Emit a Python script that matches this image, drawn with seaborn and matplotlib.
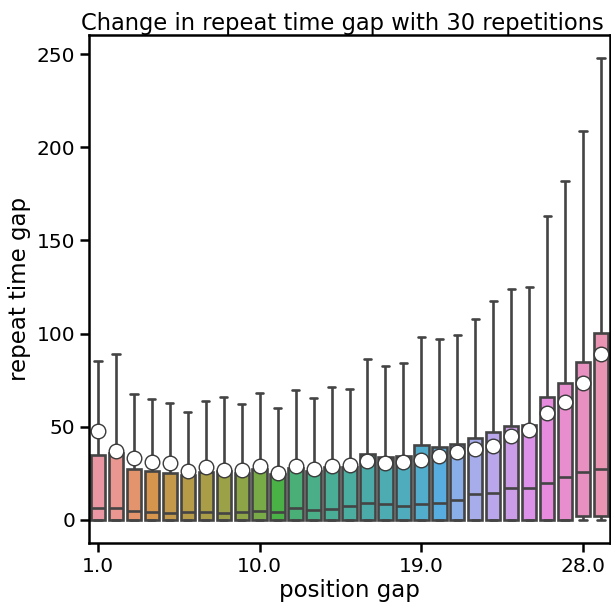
import matplotlib
matplotlib.use("Agg")
import matplotlib.pyplot as plt
import numpy as np
import pandas as pd
import seaborn as sns

# position gap categories
positions = [float(i) for i in range(1, 30)]

# box statistics (repeat time gap)
whisk_low = [0] * 27 + [0, 0]
q1 = [0] * 27 + [2, 2]
medians = [6.3, 6.3, 4.8, 4.5, 3.8, 4.1, 4.5, 3.8, 4.3, 5.0,
           4.1, 6.3, 5.4, 5.7, 7.5, 9.3, 8.6, 7.5, 8.6, 9.0,
           10.7, 13.8, 14.7, 17.0, 17.0, 19.7, 22.9, 25.9, 27.2]
q3 = [35.0, 35.8, 27.2, 26.5, 25.4, 24.1, 25.9, 26.5, 25.0, 27.5,
      24.5, 28.0, 26.5, 28.5, 28.2, 35.2, 33.6, 34.5, 40.1, 39.3,
      40.6, 43.8, 47.4, 50.4, 51.0, 66.2, 73.3, 85.0, 100.5]
whisk_high = [85.3, 88.9, 67.8, 64.9, 62.6, 58.1, 63.7, 66.0, 62.2, 68.3,
              60.1, 69.6, 65.6, 71.2, 70.1, 86.2, 82.6, 84.1, 98.0, 97.1,
              99.1, 107.7, 117.7, 124.1, 125.2, 163.0, 181.9, 208.5, 247.9]
means = [47.6, 37.0, 33.1, 31.0, 30.6, 26.5, 28.6, 26.7, 26.7, 29.0,
         25.4, 29.0, 27.5, 29.0, 29.5, 31.8, 30.4, 31.3, 32.4, 34.3,
         36.3, 38.3, 39.9, 44.9, 48.3, 57.6, 63.5, 73.7, 89.1]

# five values per category reproduce the quartiles and whiskers exactly
rows = []
for i, p in enumerate(positions):
    for v in (whisk_low[i], q1[i], medians[i], q3[i], whisk_high[i]):
        rows.append({"position gap": p, "repeat time gap": v})
df = pd.DataFrame(rows)
df_mean = pd.DataFrame({"position gap": positions, "repeat time gap": means})

sns.set_style("ticks")
plt.rcParams["font.family"] = ["DejaVu Sans"]
plt.rcParams["text.color"] = "black"
plt.rcParams["axes.labelcolor"] = "black"
plt.rcParams["xtick.color"] = "black"
plt.rcParams["ytick.color"] = "black"
plt.rcParams["axes.edgecolor"] = "black"
plt.rcParams["axes.linewidth"] = 1.8
plt.rcParams["xtick.major.width"] = 1.8
plt.rcParams["ytick.major.width"] = 1.8
plt.rcParams["xtick.major.size"] = 6.5
plt.rcParams["ytick.major.size"] = 6.5

fig = plt.figure(figsize=(6.11, 6.02), dpi=100)
ax = fig.add_axes([89 / 611, 59 / 602, 521 / 611, 508 / 602])

sns.boxplot(
    data=df,
    x="position gap",
    y="repeat time gap",
    hue="position gap",
    palette=sns.husl_palette(len(positions), l=0.7),
    legend=False,
    saturation=0.75,
    showfliers=False,
    linecolor="#444444",
    linewidth=1.9,
    width=0.8,
    ax=ax
)

sns.pointplot(
    data=df_mean,
    x="position gap",
    y="repeat time gap",
    linestyle="none",
    marker="o",
    color="white",
    markeredgecolor="#3a3a3a",
    markeredgewidth=1.0,
    markersize=10.5,
    errorbar=None,
    ax=ax
)

ticks = list(range(0, len(positions), 9))
ax.set_xticks(ticks)
ax.set_xticklabels([str(positions[t]) for t in ticks])
ax.set_xlim(-0.5, len(positions) - 0.5)

ax.tick_params(labelsize=14.5)
ax.set_title("Change in repeat time gap with 30 repetitions", fontsize=16.3, pad=3, x=0.486)
ax.set_xlabel("position gap", fontsize=16.5, labelpad=2)
ax.set_ylabel("repeat time gap", fontsize=16.5, labelpad=4)

fig.savefig("out.png", dpi=100)
